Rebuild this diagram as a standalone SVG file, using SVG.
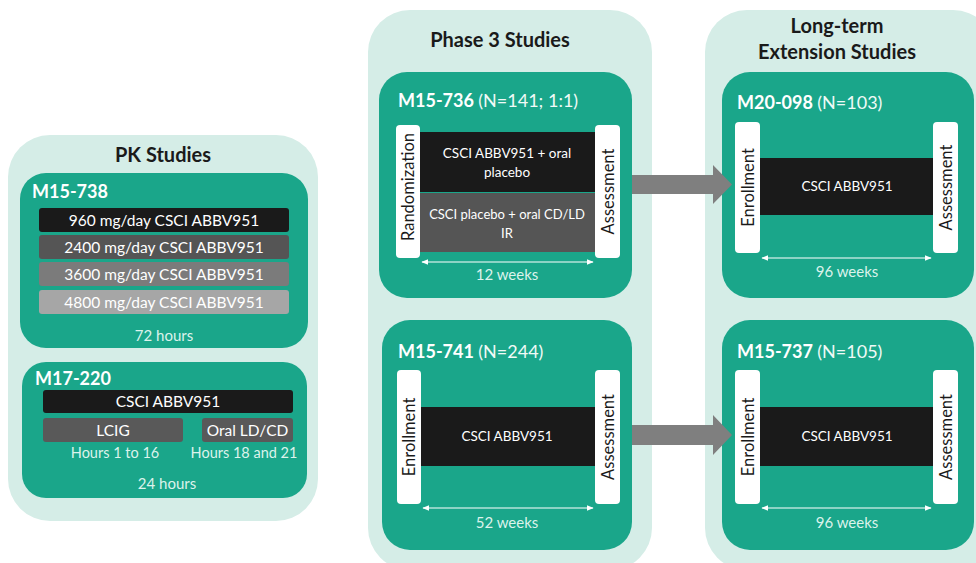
<svg xmlns="http://www.w3.org/2000/svg" width="976" height="563" viewBox="0 0 976 563">
<defs>
<style>
.panel{fill:#d5ede7}
.box{fill:#1aa68a}
.t{font-family:Lato,"Open Sans","Liberation Sans",sans-serif}
.h{font-size:20px;font-weight:bold;fill:#1a1a1a;text-anchor:middle}
.title{font-size:18px;font-weight:bold;fill:#ffffff}
.n{font-weight:normal;fill:#f0faf7}
.bar{font-size:15.5px;fill:#ffffff;text-anchor:middle}
.cap{font-size:15px;fill:#dcf3ec;text-anchor:middle}
.small{font-size:13.5px;fill:#ffffff;text-anchor:middle}
.side{font-size:16.5px;fill:#1a1a1a;text-anchor:middle}
.wbar{fill:#ffffff}
.dim{stroke:#ffffff;stroke-width:1.2;fill:none;marker-start:url(#ah);marker-end:url(#ah)}
.big{fill:#7f7f7f}
</style>
<marker id="ah" viewBox="0 0 10 10" refX="9" refY="5" markerWidth="7" markerHeight="7" orient="auto-start-reverse" markerUnits="userSpaceOnUse">
<path d="M0,1 L10,5 L0,9 Z" fill="#ffffff"/>
</marker>
</defs>
<rect width="976" height="563" fill="#ffffff"/>

<g id="pk-panel">
<rect class="panel" x="8" y="135" width="310" height="386" rx="42"/>
<text class="t h" x="163" y="162">PK Studies</text>
</g>

<g id="m15-738">
<rect class="box" x="20" y="173" width="288" height="175" rx="26"/>
<text class="t title" x="32" y="198">M15-738</text>
<rect x="39" y="208" width="250" height="24" rx="3" fill="#1a1a1a"/>
<text class="t bar" x="164" y="226">960 mg/day CSCI ABBV951</text>
<rect x="39" y="235" width="250" height="24" rx="3" fill="#555555"/>
<text class="t bar" x="164" y="253">2400 mg/day CSCI ABBV951</text>
<rect x="39" y="262" width="250" height="24" rx="3" fill="#7b7b7b"/>
<text class="t bar" x="164" y="280">3600 mg/day CSCI ABBV951</text>
<rect x="39" y="290" width="250" height="24" rx="3" fill="#a6a6a6"/>
<text class="t bar" x="164" y="308">4800 mg/day CSCI ABBV951</text>
<text class="t cap" x="164" y="341">72 hours</text>
</g>

<g id="m17-220">
<rect class="box" x="22" y="362" width="285" height="136" rx="24"/>
<text class="t title" x="35" y="385">M17-220</text>
<rect x="43" y="390" width="250" height="23" rx="3" fill="#1a1a1a"/>
<text class="t bar" x="168" y="407">CSCI ABBV951</text>
<rect x="43" y="418" width="140" height="24" rx="3" fill="#595959"/>
<text class="t bar" x="113" y="436">LCIG</text>
<rect x="202" y="418" width="91" height="24" rx="3" fill="#595959"/>
<text class="t bar" x="247.5" y="436">Oral LD/CD</text>
<text class="t cap" x="115" y="458" style="font-size:14.5px">Hours 1 to 16</text>
<text class="t cap" x="244" y="458" style="font-size:14.5px">Hours 18 and 21</text>
<text class="t cap" x="167" y="489">24 hours</text>
</g>

<g id="phase3-panel">
<rect class="panel" x="368" y="10" width="284" height="560" rx="42"/>
<text class="t h" x="500" y="47">Phase 3 Studies</text>
</g>

<g id="longterm-panel">
<rect class="panel" x="705" y="10" width="290" height="560" rx="42"/>
<text class="t h" x="837" y="33">Long-term</text>
<text class="t h" x="837" y="59">Extension Studies</text>
</g>

<g id="m15-736">
<rect class="box" x="379" y="72" width="253" height="226" rx="28"/>
<text class="t title" x="398" y="107">M15-736 <tspan class="n">(N=141; 1:1)</tspan></text>
<rect x="420" y="132" width="175" height="60" fill="#1a1a1a"/>
<rect x="420" y="193" width="175" height="59" fill="#555555"/>
<text class="t small" x="507" y="158">CSCI ABBV951 + oral</text>
<text class="t small" x="507" y="177">placebo</text>
<text class="t small" x="507" y="219" style="font-size:13px">CSCI placebo + oral CD/LD</text>
<text class="t small" x="507" y="238" style="font-size:13px">IR</text>
<rect class="wbar" x="396" y="125" width="24" height="133" rx="4"/>
<rect class="wbar" x="595" y="125" width="25" height="133" rx="4"/>
<text class="t side" transform="translate(414,187) rotate(-90)">Randomization</text>
<text class="t side" transform="translate(613.5,191.5) rotate(-90)">Assessment</text>
<line class="dim" x1="422" y1="262" x2="593" y2="262"/>
<text class="t cap" x="507" y="280">12 weeks</text>
</g>

<g id="m15-741">
<rect class="box" x="382" y="320" width="250" height="230" rx="28"/>
<text class="t title" x="398" y="358">M15-741 <tspan class="n">(N=244)</tspan></text>
<rect x="420" y="407" width="176" height="59" fill="#1a1a1a"/>
<text class="t small" x="507" y="441">CSCI ABBV951</text>
<rect class="wbar" x="397" y="370" width="24" height="134" rx="4"/>
<rect class="wbar" x="595" y="370" width="25" height="134" rx="4"/>
<text class="t side" transform="translate(415,437) rotate(-90)">Enrollment</text>
<text class="t side" transform="translate(613.5,437) rotate(-90)">Assessment</text>
<line class="dim" x1="423" y1="508" x2="593" y2="508"/>
<text class="t cap" x="507" y="528">52 weeks</text>
</g>

<g id="m20-098">
<rect class="box" x="722" y="72" width="252" height="226" rx="28"/>
<text class="t title" x="737" y="109">M20-098 <tspan class="n">(N=103)</tspan></text>
<rect x="760" y="158" width="173" height="57" fill="#1a1a1a"/>
<text class="t small" x="847" y="191">CSCI ABBV951</text>
<rect class="wbar" x="735" y="122" width="25" height="131" rx="4"/>
<rect class="wbar" x="933" y="122" width="25" height="131" rx="4"/>
<text class="t side" transform="translate(753.5,187.5) rotate(-90)">Enrollment</text>
<text class="t side" transform="translate(951.5,187.5) rotate(-90)">Assessment</text>
<line class="dim" x1="762" y1="258" x2="931" y2="258"/>
<text class="t cap" x="847" y="277">96 weeks</text>
</g>

<g id="m15-737">
<rect class="box" x="722" y="320" width="252" height="230" rx="28"/>
<text class="t title" x="737" y="358">M15-737 <tspan class="n">(N=105)</tspan></text>
<rect x="760" y="407" width="173" height="59" fill="#1a1a1a"/>
<text class="t small" x="847" y="441">CSCI ABBV951</text>
<rect class="wbar" x="735" y="370" width="25" height="134" rx="4"/>
<rect class="wbar" x="933" y="370" width="25" height="134" rx="4"/>
<text class="t side" transform="translate(753.5,437) rotate(-90)">Enrollment</text>
<text class="t side" transform="translate(951.5,437) rotate(-90)">Assessment</text>
<line class="dim" x1="762" y1="508" x2="931" y2="508"/>
<text class="t cap" x="847" y="528">96 weeks</text>
</g>

<g id="connectors">
<polygon class="big" points="632,175 713,175 713,165 732,184.5 713,204 713,194 632,194"/>
<polygon class="big" points="632,425 713,425 713,415 732,435 713,455 713,445 632,445"/>
</g>
</svg>
